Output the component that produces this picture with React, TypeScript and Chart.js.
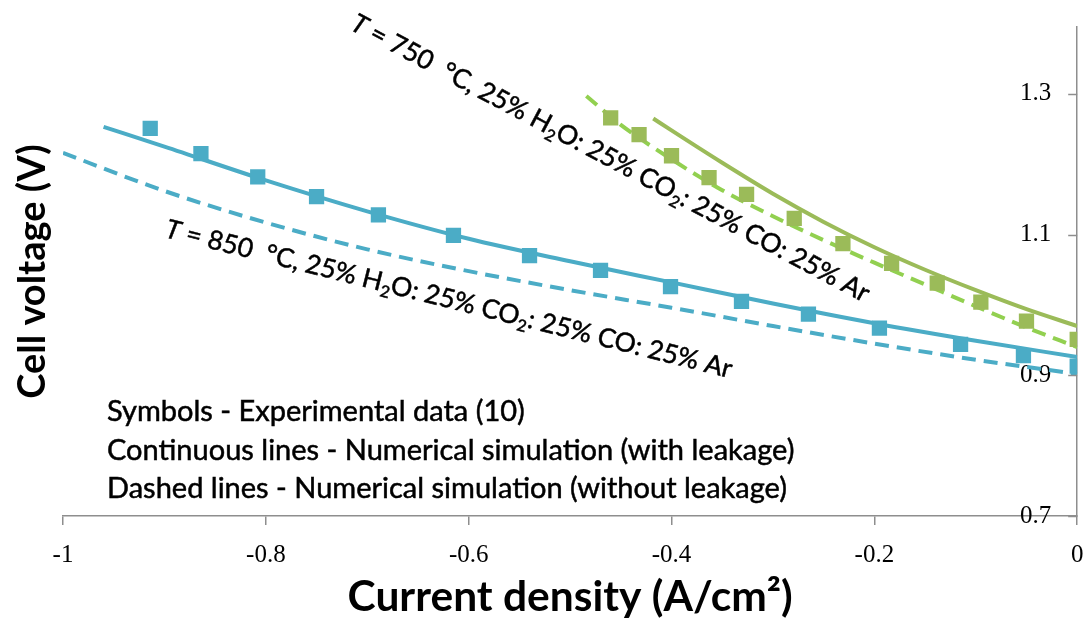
import React, { useEffect, useRef } from "react";
import { Chart, registerables } from "chart.js";

Chart.register(...registerables);

// ---- Axis ticks ----
const X_TICKS = [-1, -0.8, -0.6, -0.4, -0.2, 0];
const X_TICK_LABELS = ["-1", "-0.8", "-0.6", "-0.4", "-0.2", "0"];
const Y_TICKS = [0.7, 0.9, 1.1, 1.3];
const Y_TICK_LABELS = ["0.7", "0.9", "1.1", "1.3"];
const X_MIN = -1;
const X_MAX = 0;
const Y_MIN = 0.7;
const Y_MAX = 1.395;

// ---- T = 850 °C ----
const EXP_850_X = [-0.914, -0.864, -0.808, -0.75, -0.689, -0.615, -0.54, -0.47, -0.401, -0.331, -0.265, -0.195, -0.115, -0.053, 0.0];
const EXP_850_Y = [1.251, 1.215, 1.182, 1.154, 1.128, 1.099, 1.07, 1.049, 1.026, 1.005, 0.987, 0.967, 0.944, 0.928, 0.913];

const SIM_LEAK_850_X = [-0.96, -0.9, -0.8, -0.7, -0.6, -0.5, -0.4, -0.3, -0.2, -0.1, 0.0];
const SIM_LEAK_850_Y = [1.253, 1.225, 1.177, 1.133, 1.094, 1.062, 1.032, 1.002, 0.974, 0.949, 0.926];

const SIM_NOLEAK_850_X = [-1.0, -0.9, -0.8, -0.7, -0.6, -0.5, -0.4, -0.3, -0.2, -0.1, 0.0];
const SIM_NOLEAK_850_Y = [1.216, 1.162, 1.117, 1.079, 1.048, 1.021, 0.996, 0.97, 0.945, 0.922, 0.902];

// ---- T = 750 °C ----
const EXP_750_X = [-0.46, -0.432, -0.4, -0.363, -0.326, -0.279, -0.231, -0.183, -0.138, -0.095, -0.05, 0.0];
const EXP_750_Y = [1.266, 1.242, 1.212, 1.181, 1.157, 1.123, 1.087, 1.059, 1.031, 1.004, 0.977, 0.951];

const SIM_LEAK_750_X = [-0.418, -0.4, -0.35, -0.3, -0.25, -0.2, -0.15, -0.1, -0.05, 0.0];
const SIM_LEAK_750_Y = [1.265, 1.248, 1.202, 1.158, 1.118, 1.082, 1.05, 1.021, 0.994, 0.97];

const SIM_NOLEAK_750_X = [-0.484, -0.45, -0.4, -0.35, -0.3, -0.25, -0.2, -0.15, -0.1, -0.05, 0.0];
const SIM_NOLEAK_750_Y = [1.297, 1.256, 1.207, 1.163, 1.126, 1.092, 1.06, 1.029, 0.998, 0.968, 0.94];

// ---- Texts ----
const X_TITLE = "Current density (A/cm²)";
const Y_TITLE = "Cell voltage (V)";
const NOTE_LINES = [
  "Symbols - Experimental data (10)",
  "Continuous lines - Numerical simulation (with leakage)",
  "Dashed lines - Numerical simulation (without leakage)",
];
type Seg = { t: string; italic?: boolean; sub?: boolean };
const LABEL_850: Seg[] = [
  { t: "T", italic: true },
  { t: " = 850  °C, 25% H" },
  { t: "2", sub: true },
  { t: "O: 25% CO" },
  { t: "2", sub: true },
  { t: ": 25% CO: 25% Ar" },
];
const LABEL_750: Seg[] = [
  { t: "T", italic: true },
  { t: " = 750  °C, 25% H" },
  { t: "2", sub: true },
  { t: "O: 25% CO" },
  { t: "2", sub: true },
  { t: ": 25% CO: 25% Ar" },
];

const BLUE = "#4BACC6";
const GREEN = "#9BBB59";
const GREEN_LIGHT = "#92D050";
const AXIS_GRAY = "#8E8E8E";
const TEXT_FONT = "Lato, 'Open Sans', sans-serif";
const TICK_FONT = "'Liberation Serif', 'DejaVu Serif', serif";

const pts = (xs: number[], ys: number[]) => xs.map((x, i) => ({ x, y: ys[i] }));

function segFont(seg: Seg, size: number) {
  const s = seg.sub ? size * 0.62 : size;
  return `${seg.italic ? "italic " : ""}${s}px ${TEXT_FONT}`;
}

function drawRich(ctx: CanvasRenderingContext2D, segs: Seg[], x: number, y: number, angleDeg: number, targetLen: number) {
  let w = 0;
  for (const s of segs) {
    ctx.font = segFont(s, 100);
    w += ctx.measureText(s.t).width;
  }
  const size = (100 * targetLen) / w;
  ctx.save();
  ctx.translate(x, y);
  ctx.rotate((angleDeg * Math.PI) / 180);
  ctx.fillStyle = "#000";
  ctx.strokeStyle = "#000";
  ctx.lineWidth = 0.5;
  ctx.textBaseline = "alphabetic";
  ctx.textAlign = "left";
  let cx = 0;
  for (const s of segs) {
    ctx.font = segFont(s, size);
    const dy = s.sub ? size * 0.2 : 0;
    ctx.fillText(s.t, cx, dy);
    ctx.strokeText(s.t, cx, dy);
    cx += ctx.measureText(s.t).width;
  }
  ctx.restore();
}

const overlayPlugin = {
  id: "overlay",
  afterDraw(chart: any) {
    const ctx: CanvasRenderingContext2D = chart.ctx;
    const y = chart.scales.y;
    const area = chart.chartArea;
    // inward tick marks on the right axis
    ctx.save();
    ctx.strokeStyle = AXIS_GRAY;
    ctx.lineWidth = 1.5;
    for (const v of Y_TICKS) {
      const py = Math.round(y.getPixelForValue(v)) + 0.5;
      ctx.beginPath();
      ctx.moveTo(area.right - 9, py);
      ctx.lineTo(area.right, py);
      ctx.stroke();
    }
    ctx.restore();

    // rotated curve labels
    drawRich(ctx, LABEL_850, 164, 237, 14, 583);
    drawRich(ctx, LABEL_750, 349, 29, 28, 583);

    // note block
    ctx.save();
    ctx.fillStyle = "#000";
    ctx.strokeStyle = "#000";
    ctx.lineWidth = 0.5;
    ctx.textAlign = "left";
    ctx.textBaseline = "alphabetic";
    ctx.font = `100px ${TEXT_FONT}`;
    const w = ctx.measureText(NOTE_LINES[2]).width;
    const size = (100 * 680) / w;
    ctx.font = `${size}px ${TEXT_FONT}`;
    const baselines = [421, 459.5, 498];
    NOTE_LINES.forEach((t, i) => {
      ctx.fillText(t, 107, baselines[i]);
      ctx.strokeText(t, 107, baselines[i]);
    });
    ctx.restore();
  },
};

const noPad = (s: any) => {
  s.paddingTop = 0;
  s.paddingBottom = 0;
  s.paddingLeft = 0;
  s.paddingRight = 0;
};

export default function App() {
  const ref = useRef<HTMLCanvasElement | null>(null);
  useEffect(() => {
    document.body.style.margin = "0";
    const canvas = ref.current!;
    const chart = new Chart(canvas, {
      type: "scatter",
      data: {
        datasets: [
          {
            label: "Exp 850",
            data: pts(EXP_850_X, EXP_850_Y),
            pointStyle: "rect",
            pointRadius: 10.8,
            pointBackgroundColor: BLUE,
            pointBorderWidth: 0,
            borderColor: BLUE,
            backgroundColor: BLUE,
            showLine: false,
            order: 0,
          },
          {
            label: "Exp 750",
            data: pts(EXP_750_X, EXP_750_Y),
            pointStyle: "rect",
            pointRadius: 10.8,
            pointBackgroundColor: GREEN,
            pointBorderWidth: 0,
            borderColor: GREEN,
            backgroundColor: GREEN,
            showLine: false,
            order: 0,
          },
          {
            label: "Sim leak 850",
            data: pts(SIM_LEAK_850_X, SIM_LEAK_850_Y),
            showLine: true,
            pointRadius: 0,
            borderColor: BLUE,
            borderWidth: 4,
            cubicInterpolationMode: "monotone",
            order: 1,
          },
          {
            label: "Sim no leak 850",
            data: pts(SIM_NOLEAK_850_X, SIM_NOLEAK_850_Y),
            showLine: true,
            pointRadius: 0,
            borderColor: BLUE,
            borderWidth: 4,
            borderDash: [14, 8],
            cubicInterpolationMode: "monotone",
            order: 1,
          },
          {
            label: "Sim leak 750",
            data: pts(SIM_LEAK_750_X, SIM_LEAK_750_Y),
            showLine: true,
            pointRadius: 0,
            borderColor: GREEN,
            borderWidth: 4,
            cubicInterpolationMode: "monotone",
            order: 1,
          },
          {
            label: "Sim no leak 750",
            data: pts(SIM_NOLEAK_750_X, SIM_NOLEAK_750_Y),
            showLine: true,
            pointRadius: 0,
            borderColor: GREEN_LIGHT,
            borderWidth: 4,
            borderDash: [14, 8],
            cubicInterpolationMode: "monotone",
            order: 1,
          },
        ],
      },
      options: {
        animation: false,
        responsive: false,
        events: [],
        layout: { padding: { top: 27, left: 0, right: 0, bottom: 0 } },
        plugins: { legend: { display: false }, tooltip: { enabled: false } },
        scales: {
          x: {
            type: "linear",
            position: "bottom",
            min: X_MIN,
            max: X_MAX,
            afterBuildTicks: (s: any) => {
              s.ticks = X_TICKS.map((v) => ({ value: v }));
            },
            afterFit: (s: any) => {
              s.height = 107;
              noPad(s);
            },
            border: { display: true, color: AXIS_GRAY, width: 1.5 },
            grid: { display: true, drawOnChartArea: false, drawTicks: true, tickLength: 9, color: AXIS_GRAY, lineWidth: 1.5 },
            ticks: {
              autoSkip: false,
              maxRotation: 0,
              padding: 15,
              color: "#000",
              font: { family: TICK_FONT, size: 25 },
              callback: (_v: any, i: number) => X_TICK_LABELS[i],
            },
            title: {
              display: true,
              text: X_TITLE,
              color: "#000",
              font: { family: TEXT_FONT, size: 42.5, weight: "bold" },
              padding: { top: 0, bottom: 0 },
            },
          },
          y: {
            type: "linear",
            position: "right",
            min: Y_MIN,
            max: Y_MAX,
            afterBuildTicks: (s: any) => {
              s.ticks = Y_TICKS.map((v) => ({ value: v }));
            },
            afterFit: (s: any) => {
              s.width = 4;
              noPad(s);
            },
            border: { display: true, color: AXIS_GRAY, width: 1.5 },
            grid: { display: true, drawOnChartArea: false, drawTicks: false, color: "rgba(0,0,0,0)" },
            ticks: {
              mirror: true,
              padding: -26,
              color: "#000",
              font: { family: TICK_FONT, size: 25 },
              callback: (_v: any, i: number) => Y_TICK_LABELS[i],
            },
          },
          yTitle: {
            type: "linear",
            position: "left",
            min: Y_MIN,
            max: Y_MAX,
            afterFit: (s: any) => {
              s.width = 63;
              noPad(s);
            },
            border: { display: false },
            grid: { display: false, drawTicks: false },
            ticks: { display: false },
            title: {
              display: true,
              text: Y_TITLE,
              color: "#000",
              font: { family: TEXT_FONT, size: 38, weight: "bold" },
              padding: { top: 10, bottom: 0 },
            },
          },
        },
      } as any,
      plugins: [overlayPlugin],
    });
    return () => chart.destroy();
  }, []);
  return (
    <div style={{ width: 1088, height: 623, background: "#fff" }}>
      <canvas ref={ref} width={1088} height={623} style={{ display: "block" }} />
    </div>
  );
}
